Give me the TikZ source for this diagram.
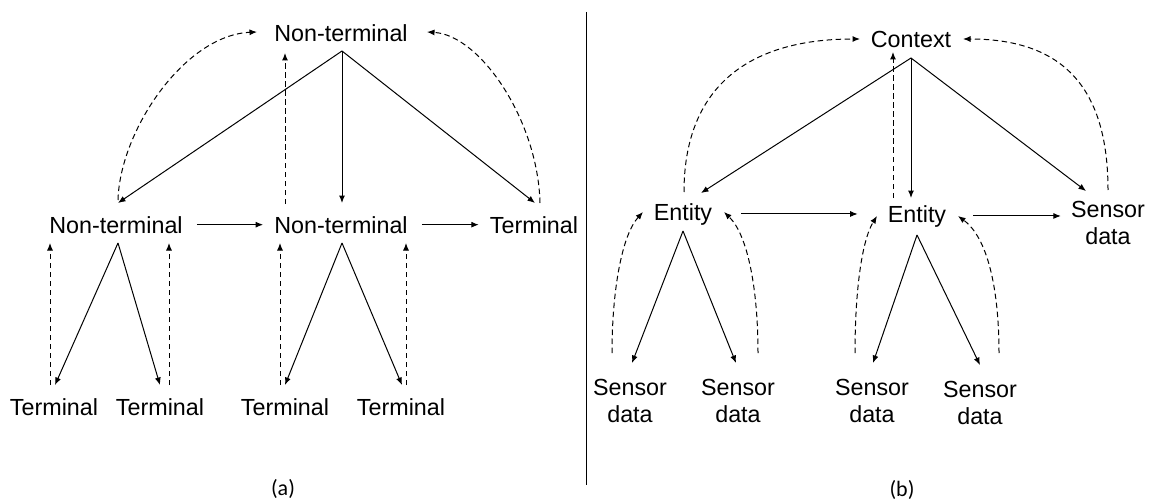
\documentclass[tikz,border=0pt]{standalone}
\usepackage{fontspec}
\setmainfont{Liberation Sans}
\newfontfamily\capfont{Carlito}
\usetikzlibrary{arrows.meta,calc}
\begin{document}
\begin{tikzpicture}[x=1pt,y=-1pt,
  lbl/.style={font=\fontsize{23.3}{27}\selectfont, inner sep=0pt, anchor=base, align=center},
  subcap/.style={font=\capfont\fontsize{22}{26}\selectfont, inner sep=0pt},
  arr/.style={-{Latex[length=7.5pt,width=6pt]}, line width=1pt},
  darr/.style={arr, dash pattern=on 5.5pt off 3.5pt}]
\useasboundingbox (0,0) rectangle (1151,500);

% ---------- panel (a) ----------
\node[lbl] (ntTop) at (341,42)  {Non-terminal};
\node[lbl] (ntL)   at (116,233) {Non-terminal};
\node[lbl] (ntM)   at (341,233) {Non-terminal};
\node[lbl] (tR)    at (534,233) {Terminal};
\node[lbl] (t1)    at (54,415)  {Terminal};
\node[lbl] (t2)    at (160,415) {Terminal};
\node[lbl] (t3)    at (285,415) {Terminal};
\node[lbl] (t4)    at (401,415) {Terminal};
\node[subcap] (la) at (283,489) {(a)};

\draw[arr] ($(ntTop.base)+(1,9)$) -- ($(ntL.base)+(2,-30)$);
\draw[arr] ($(ntTop.base)+(1,9)$) -- ($(ntM.base)+(1,-30)$);
\draw[arr] ($(ntTop.base)+(1,9)$) -- ($(tR.base)+(1,-30)$);
\draw[darr] ($(ntM.base)+(-56,-29)$) -- ($(ntTop.base)+(-56,11)$);
\draw[darr] ($(ntL.base)+(2,-33)$) .. controls (120,130) and (185,35) .. ($(ntTop.base)+(-84,-10)$);
\draw[darr] ($(tR.base)+(6,-30)$) .. controls (538,120) and (480,35) .. ($(ntTop.base)+(86,-10)$);
\draw[arr] ($(ntL.east)+(14,0)$) -- ($(ntM.west)+(-11,0)$);
\draw[arr] ($(ntM.east)+(14,0)$) -- ($(tR.west)+(-11,0)$);

\draw[arr] ($(ntL.base)+(2,10)$) -- ($(t1.base)+(1,-30)$);
\draw[arr] ($(ntL.base)+(2,10)$) -- ($(t2.base)+(0,-30)$);
\draw[darr] ($(t1.base)+(-4,-30)$) -- ($(ntL.base)+(-66,10)$);
\draw[darr] ($(t2.base)+(9,-30)$) -- ($(ntL.base)+(53,10)$);
\draw[arr] ($(ntM.base)+(1,10)$) -- ($(t3.base)+(0,-30)$);
\draw[arr] ($(ntM.base)+(1,10)$) -- ($(t4.base)+(1,-30)$);
\draw[darr] ($(t3.base)+(-5,-30)$) -- ($(ntM.base)+(-61,10)$);
\draw[darr] ($(t4.base)+(5,-30)$) -- ($(ntM.base)+(65,10)$);

% divider
\draw[line width=1pt] (586,12) -- (586,485);

% ---------- panel (b) ----------
\node[lbl] (ctx) at (911,48)  {Context};
\node[lbl] (eL)  at (683,220) {Entity};
\node[lbl] (eM)  at (917,222) {Entity};
\node[lbl] (sR)  at (1108,244) {Sensor\\data};
\node[lbl] (s1)  at (630,422) {Sensor\\data};
\node[lbl] (s2)  at (738,422) {Sensor\\data};
\node[lbl] (s3)  at (872,422) {Sensor\\data};
\node[lbl] (s4)  at (980,424) {Sensor\\data};
\node[subcap] (lb) at (902,490) {(b)};

\draw[arr] ($(ctx.base)+(0,10)$) -- ($(eL.base)+(18,-27)$);
\draw[arr] ($(ctx.base)+(0,10)$) -- ($(eM.base)+(-6,-24)$);
\draw[arr] ($(ctx.base)+(0,10)$) -- ($(sR.base)+(-22,-53)$);
\draw[darr] ($(eM.base)+(-24,-24)$) -- ($(ctx.base)+(-18,4)$);
\draw[darr] ($(eL.base)+(1,-28)$) .. controls (684,90) and (745,39) .. ($(ctx.base)+(-51,-9)$);
\draw[darr] ($(sR.base)+(0,-54)$) .. controls (1108,90) and (1065,39) .. ($(ctx.base)+(52,-9)$);
\draw[arr] ($(eL.east)+(29,0)$) -- ($(eL.east -| eM.west)+(-30,0)$);
\draw[arr] ($(eM.east)+(27,0)$) -- ($(eM.east -| sR.west)+(-10,0)$);

\draw[arr] ($(eL.base)+(0,11)$) -- ($(s1.base)+(2,-59)$);
\draw[arr] ($(eL.base)+(0,11)$) -- ($(s2.base)+(-2,-59)$);
\draw[darr] ($(s1.base)+(-18,-69)$) .. controls (612,290) and (622,235) .. ($(eL.base)+(-40,-8)$);
\draw[darr] ($(s2.base)+(20,-69)$) .. controls (758,290) and (748,235) .. ($(eL.base)+(41,-8)$);
\draw[arr] ($(eM.base)+(0,13)$) -- ($(s3.base)+(1,-59)$);
\draw[arr] ($(eM.base)+(0,13)$) -- ($(s4.base)+(0,-59)$);
\draw[darr] ($(s3.base)+(-17,-69)$) .. controls (855,290) and (862,240) .. ($(eM.base)+(-40,-6)$);
\draw[darr] ($(s4.base)+(19,-71)$) .. controls (999,290) and (988,238) .. ($(eM.base)+(41,-6)$);
\end{tikzpicture}
\end{document}
